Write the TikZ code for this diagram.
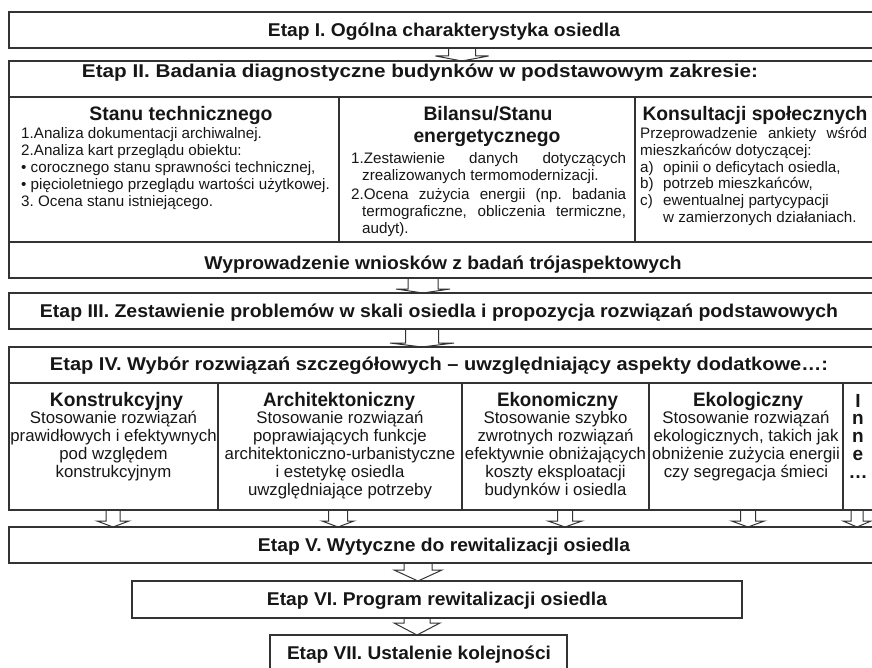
\documentclass[tikz,border=0pt]{standalone}
\usepackage{fontspec}
\setmainfont{Liberation Sans}
\usepackage{graphicx}
\usetikzlibrary{calc}
\definecolor{ln}{HTML}{333333}
\definecolor{tx}{HTML}{161616}
\newcommand\rsz[2]{\resizebox{#1pt}{\height}{#2}}
\tikzset{
 bx/.style={draw=ln, line width=1.3pt, rectangle, inner sep=0pt, outer sep=0pt, anchor=north west},
 hd/.style={inner sep=0pt, text=tx, anchor=base, font=\frenchspacing\bfseries\fontsize{18.5}{21}\selectfont},
 sh/.style={inner sep=0pt, text=tx, anchor=base, font=\frenchspacing\bfseries\fontsize{19.5}{21}\selectfont},
 bt/.style={inner sep=0pt, text=tx, anchor=base west, font=\frenchspacing\fontsize{15.2}{17}\selectfont},
 bc/.style={inner sep=0pt, text=tx, anchor=base, font=\frenchspacing\fontsize{16.8}{18}\selectfont},
 bi/.style={inner sep=0pt, text=tx, anchor=base, font=\bfseries\fontsize{19}{18}\selectfont},
 ba/.style={draw=ln, line width=1pt, line join=miter},
}
% name, cx, source node, target node, shaft half-width, head half-width, head height
\newcommand\blk[7]{%
 \coordinate (#1) at (#2,0);
 \draw[ba] ($(#1 |- #3.south)+(-#5,0)$) -- ($(#1 |- #4.north)+(-#5,-#7)$)
   -- ($(#1 |- #4.north)+(-#6,-#7)$) -- (#1 |- #4.north)
   -- ($(#1 |- #4.north)+(#6,-#7)$) -- ($(#1 |- #4.north)+(#5,-#7)$)
   -- ($(#1 |- #3.south)+(#5,0)$);
}
\begin{document}
\frenchspacing
\begin{tikzpicture}[x=1pt,y=-1pt]
\useasboundingbox (0,0) rectangle (872,668);
\clip (0,0) rectangle (872,668);

% ---------- boxes ----------
\node[bx, minimum width=871pt, minimum height=36pt] (e1) at (9,12) {};
\node[bx, minimum width=871pt, minimum height=36pt] (e2h) at (9,61) {};
\node[bx, minimum width=330pt, minimum height=145pt] (c1) at (9,97) {};
\node[bx, minimum width=296pt, minimum height=145pt] (c2) at (339,97) {};
\node[bx, minimum width=245pt, minimum height=145pt] (c3) at (635,97) {};
\node[bx, minimum width=871pt, minimum height=36pt] (w) at (9,242) {};
\node[bx, minimum width=871pt, minimum height=36pt] (e3) at (9,293) {};
\node[bx, minimum width=871pt, minimum height=36pt] (e4h) at (9,347) {};
\node[bx, minimum width=209pt, minimum height=127pt] (d1) at (9,383) {};
\node[bx, minimum width=244pt, minimum height=127pt] (d2) at (218,383) {};
\node[bx, minimum width=187pt, minimum height=127pt] (d3) at (462,383) {};
\node[bx, minimum width=194pt, minimum height=127pt] (d4) at (649,383) {};
\node[bx, minimum width=37pt, minimum height=127pt] (d5) at (843,383) {};
\node[bx, minimum width=871pt, minimum height=36pt] (e5) at (9,527) {};
\node[bx, minimum width=610pt, minimum height=37pt] (e6) at (132,581) {};
\node[bx, minimum width=297pt, minimum height=36pt] (e7) at (270,635) {};

% ---------- block arrows ----------
\blk{a1}{462}{e1}{e2h}{13.5}{26.5}{5}
\blk{a2}{423}{w}{e3}{15}{27}{4}
\blk{a3}{422}{e3}{e4h}{16.5}{32}{4}
\blk{a4}{113}{d1}{e5}{7}{16}{6}
\blk{a5}{338}{d2}{e5}{9.5}{16}{6}
\blk{a6}{565}{d3}{e5}{7.5}{17}{6}
\blk{a7}{748}{d4}{e5}{7.5}{16.5}{6}
\blk{a8}{857}{d5}{e5}{6}{14}{6}
\blk{a9}{418}{e5}{e6}{14}{24}{11}
\blk{a10}{417}{e6}{e7}{13}{23}{12}

% ---------- headings ----------
\node[hd] (t1) at (444,36.7) {\rsz{352}{Etap I. Ogólna charakterystyka osiedla}};
\node[hd] (t2) at (420,77.5) {\rsz{676}{Etap II. Badania diagnostyczne budynków w podstawowym zakresie:}};
\node[hd] (tw) at (443,269.5) {\rsz{477}{Wyprowadzenie wniosków z badań trójaspektowych}};
\node[hd] (t3) at (439,317.5) {\rsz{798}{Etap III. Zestawienie problemów w skali osiedla i propozycja rozwiązań podstawowych}};
\node[hd] (t4) at (439,370.5) {\rsz{778}{Etap IV. Wybór rozwiązań szczegółowych – uwzględniający aspekty dodatkowe…:}};
\node[hd] (t5) at (444,551.5) {\rsz{372}{Etap V. Wytyczne do rewitalizacji osiedla}};
\node[hd] (t6) at (437,605.5) {\rsz{340}{Etap VI. Program rewitalizacji osiedla}};
\node[hd] (t7) at (419,659.5) {\rsz{264}{Etap VII. Ustalenie kolejności}};

% ---------- stage II columns ----------
\node[sh] (h1) at (181,121) {\rsz{183}{Stanu technicznego}};
\node[sh] (h2a) at (488,121) {\rsz{129}{Bilansu/Stanu}};
\node[sh] (h2b) at (487,142.5) {\rsz{147}{energetycznego}};
\node[sh] (h3) at (755,121) {\rsz{225}{Konsultacji społecznych}};

\node[bt] (s1) at (21,138.5) {1.Analiza dokumentacji archiwalnej.};
\node[bt] (s2) at (21,156) {2.Analiza kart przeglądu obiektu:};
\node[bt] (s3) at (21,173) {• corocznego stanu sprawności technicznej,};
\node[bt] (s4) at (21,190) {• pięcioletniego przeglądu wartości użytkowej.};
\node[bt] (s5) at (21,207) {3. Ocena stanu istniejącego.};

\node[bt] (b1) at (351,163.5) {\makebox[275pt][s]{1.Zestawienie danych dotyczących}};
\node[bt] (b2) at (362,181) {zrealizowanych termomodernizacji.};
\node[bt] (b3) at (351,199.5) {\makebox[275pt][s]{2.Ocena zużycia energii (np. badania}};
\node[bt] (b4) at (362,217) {\makebox[264pt][s]{termograficzne, obliczenia termiczne,}};
\node[bt] (b5) at (362,234) {audyt).};

\node[bt] (k1) at (640,138.5) {\makebox[227pt][s]{Przeprowadzenie ankiety wśród}};
\node[bt] (k2) at (640,155.5) {mieszkańców dotyczącej:};
\node[bt] (k3a) at (640,172.5) {a)};
\node[bt] (k3b) at (663,172.5) {opinii o deficytach osiedla,};
\node[bt] (k4a) at (640,189) {b)};
\node[bt] (k4b) at (663,189) {potrzeb mieszkańców,};
\node[bt] (k5a) at (640,206) {c)};
\node[bt] (k5b) at (663,206) {ewentualnej partycypacji};
\node[bt] (k6) at (663,223) {w zamierzonych działaniach.};

% ---------- stage IV columns ----------
\node[sh] (g1) at (116.5,406.5) {\rsz{133}{Konstrukcyjny}};
\node[sh] (g2) at (339,406.5) {\rsz{152}{Architektoniczny}};
\node[sh] (g3) at (557.5,406.5) {\rsz{121}{Ekonomiczny}};
\node[sh] (g4) at (748,406.5) {\rsz{110}{Ekologiczny}};

\foreach \t [count=\i] in {Stosowanie rozwiązań, prawidłowych i efektywnych, pod względem, konstrukcyjnym}
  \node[bc] (p1l\i) at (113.5,{423+(\i-1)*18.2}) {\t};
\foreach \t [count=\i] in {Stosowanie rozwiązań, poprawiających funkcje, architektoniczno-urbanistyczne, i estetykę osiedla, uwzględniające potrzeby}
  \node[bc] (p2l\i) at (340,{423+(\i-1)*18.2}) {\t};
\foreach \t [count=\i] in {Stosowanie szybko, zwrotnych rozwiązań, efektywnie obniżających, koszty eksploatacji, budynków i osiedla}
  \node[bc] (p3l\i) at (555.5,{423+(\i-1)*18.2}) {\t};
\foreach \t [count=\i] in {Stosowanie rozwiązań, {ekologicznych, takich jak}, obniżenie zużycia energii, czy segregacja śmieci}
  \node[bc] (p4l\i) at (746,{423+(\i-1)*18.2}) {\t};
\foreach \t [count=\i] in {I, n, n, e, …}
  \node[bi] (p5l\i) at (858,{407+(\i-1)*17.8}) {\t};
\end{tikzpicture}
\end{document}
